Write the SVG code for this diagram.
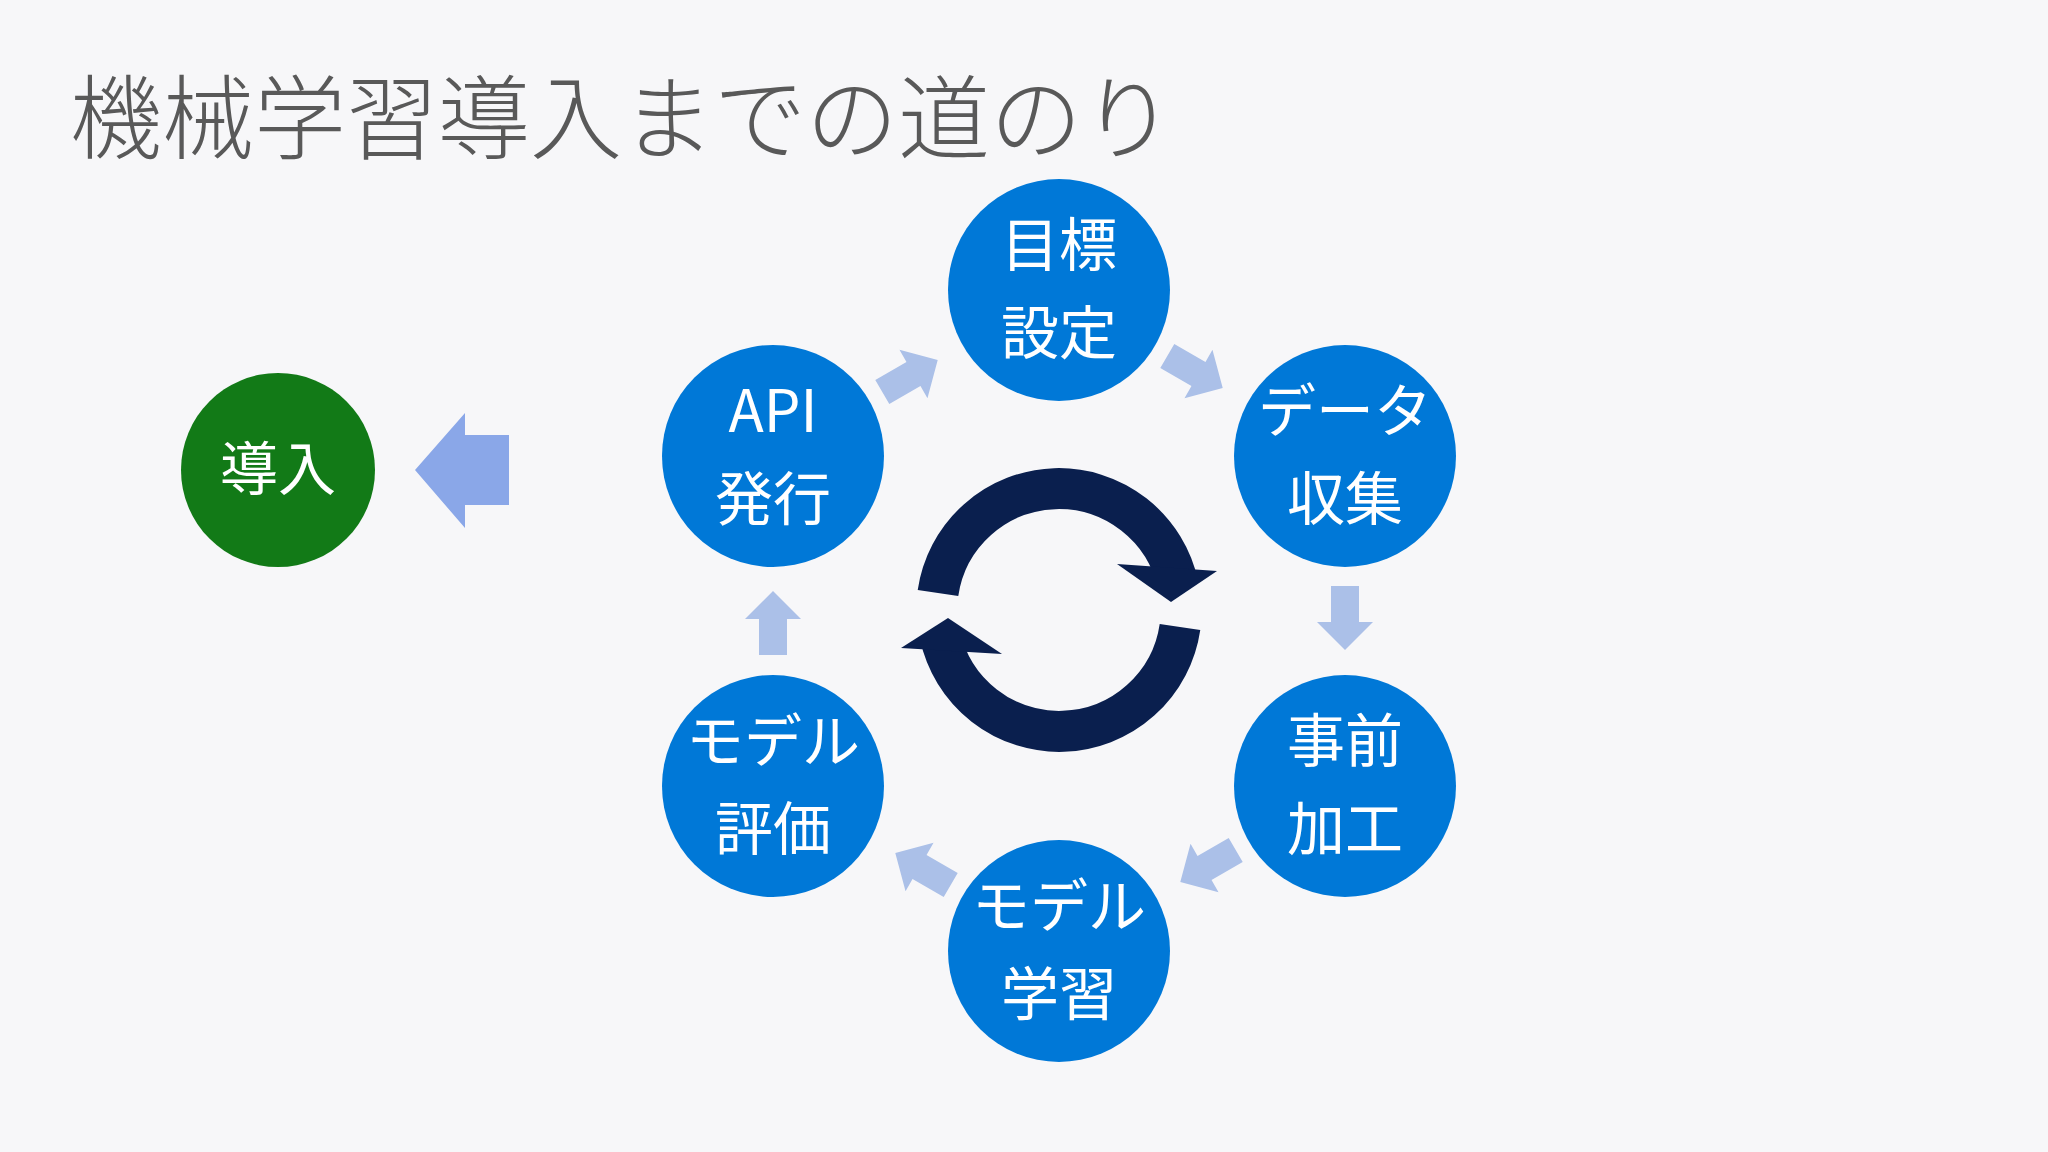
<svg xmlns="http://www.w3.org/2000/svg" width="2048" height="1152" viewBox="0 0 2048 1152">
<style>
.n{fill:#0078d7}
.t{fill:#fff;font-family:"Noto Sans CJK JP",sans-serif;font-size:58px;text-anchor:middle}
.ba{fill:#abc0e8}
</style>
<defs><path id="ba" d="M-32,-14 H4 V-28 L32,0 L4,28 V14 H-32Z"/></defs>
<rect width="2048" height="1152" fill="#f7f7f9"/>
<text x="70" y="152" font-family="'Noto Sans CJK JP',sans-serif" font-weight="300" font-size="92" fill="#595959">機械学習導入までの道のり</text>
<g id="n1"><circle class="n" cx="1059" cy="290" r="111"/><text class="t" x="1059" y="266">目標</text><text class="t" x="1059" y="354">設定</text></g>
<g id="n2"><circle class="n" cx="1345" cy="456" r="111"/><text class="t" x="1345" y="432">データ</text><text class="t" x="1345" y="520">収集</text></g>
<g id="n3"><circle class="n" cx="1345" cy="786" r="111"/><text class="t" x="1345" y="762">事前</text><text class="t" x="1345" y="850">加工</text></g>
<g id="n4"><circle class="n" cx="1059" cy="951" r="111"/><text class="t" x="1059" y="927">モデル</text><text class="t" x="1059" y="1015">学習</text></g>
<g id="n5"><circle class="n" cx="773" cy="786" r="111"/><text class="t" x="773" y="762">モデル</text><text class="t" x="773" y="850">評価</text></g>
<g id="n6"><circle class="n" cx="773" cy="456" r="111"/><text class="t" x="773" y="432">API</text><text class="t" x="773" y="520">発行</text></g>
<g id="n7"><circle cx="278" cy="470" r="97" fill="#127a17"/><text class="t" x="278" y="490">導入</text></g>
<g id="connectors">
<use href="#ba" class="ba" transform="translate(910,376) rotate(-30)"/>
<use href="#ba" class="ba" transform="translate(1195,372) rotate(30)"/>
<use href="#ba" class="ba" transform="translate(1345,618) rotate(90)"/>
<use href="#ba" class="ba" transform="translate(1208,866) rotate(150)"/>
<use href="#ba" class="ba" transform="translate(923,869) rotate(210)"/>
<use href="#ba" class="ba" transform="translate(773,623) rotate(-90)"/>
<path d="M415,470 L465,413 V435 H509 V505 H465 V528Z" fill="#8aa7e8"/>
<g fill="none" stroke="#0a1f4e" stroke-width="41">
<path d="M938,593 A122,122 0 0 1 1178,585"/>
<path d="M1180,627 A122,122 0 0 1 940,635"/>
</g>
<polygon points="1117,564 1217,571 1171,602" fill="#0a1f4e"/>
<polygon points="1002,654 901,648 948,618" fill="#0a1f4e"/>
</g>
</svg>
